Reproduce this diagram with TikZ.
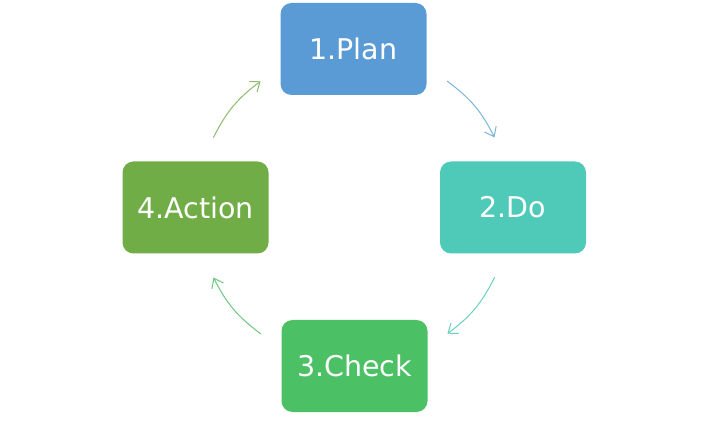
\documentclass[tikz,border=0pt]{standalone}
\usepackage{fontspec}
\setmainfont{DejaVu Sans}
\usetikzlibrary{arrows.meta}
\definecolor{planblue}{HTML}{5B9BD5}
\definecolor{doteal}{HTML}{4FCAB8}
\definecolor{checkgreen}{HTML}{4CC064}
\definecolor{actiongreen}{HTML}{70AD47}
\definecolor{arrowblue}{HTML}{7DB3D8}
\definecolor{arrowteal}{HTML}{6ACFBE}
\definecolor{arrowgreen}{HTML}{6CC77F}
\definecolor{arrowolive}{HTML}{8DBB6E}
\begin{document}
\begin{tikzpicture}[x=1pt, y=1pt, line cap=round, line join=round,
	stage/.style={rounded corners=11pt, minimum width=146pt, minimum height=92pt,
		inner sep=0pt, text=white, font=\fontsize{28.5}{34}\selectfont},
	flow/.style={line width=1pt, -{Straight Barb[length=8.5pt, width=13pt]}}]
	\useasboundingbox (0, 0) rectangle (709, 423);
	\path
	(354, 215.5) coordinate (O)
	(353.5, 374) coordinate (P)
	(513, 215.5) coordinate (D)
	(354.5, 57) coordinate (C)
	(195.5, 215.5) coordinate (A);
	\node[stage, fill=planblue] (plan) at (P) {1.Plan};
	\node[stage, fill=doteal] (do) at (D) {2.Do};
	\node[stage, fill=checkgreen] (check) at (C) {3.Check};
	\node[stage, fill=actiongreen] (action) at (A) {4.Action};
	% ends of the arrows on a circle round O
	\foreach \n/\a/\b in {1/53.5/26.5, 2/-26.5/-53.5, 3/-126.5/-153.5, 4/153.5/126.5} {
		\path (O) ++(\a:157) coordinate (s\n);
		\path (O) ++(\b:157) coordinate (e\n);
	}
	\foreach \n/\col in {1/arrowblue, 2/arrowteal, 3/arrowgreen, 4/arrowolive} {
		\draw[flow, \col] (s\n) to[bend left=13.5] (e\n);
	}
\end{tikzpicture}
\end{document}
